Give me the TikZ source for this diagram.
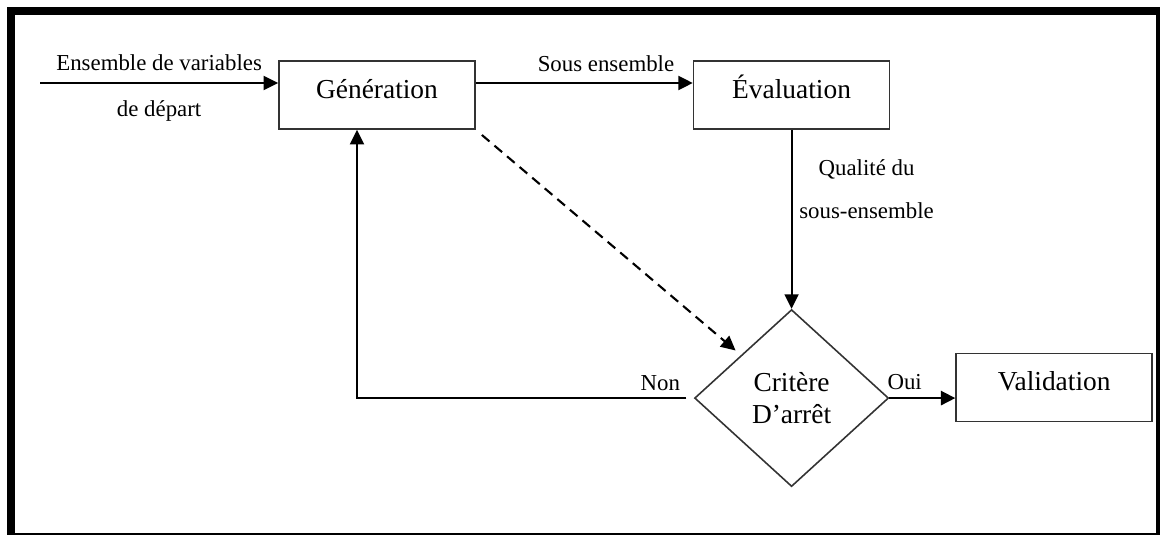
\documentclass[tikz,border=0pt]{standalone}
\usepackage{fontspec}
\setmainfont{Liberation Serif}
\usepackage{tikz}
\usetikzlibrary{positioning, shapes.geometric, arrows.meta}
\newcommand{\bigtxt}{\fontsize{15.6}{18.7}\selectfont}
\newcommand{\smalltxt}{\fontsize{13}{15.6}\selectfont}
\tikzset{
    box/.style={draw=black!80, line width=0.9pt, minimum width=39.2mm, minimum height=13.6mm, inner sep=0mm, font=\bigtxt, text height=12pt, text depth=8.5pt},
    test/.style={diamond, draw=black!80, line width=0.9pt, minimum width=38.8mm, minimum height=35.4mm, inner sep=0mm, align=center, font=\bigtxt},
    flow/.style={-{Triangle[length=2.9mm, width=2.8mm]}, line width=1.1pt},
    dflow/.style={flow, dash pattern=on 2mm off 1.3mm},
    lbl/.style={font=\smalltxt, inner sep=1pt},
    node distance=1.5
}
\begin{document}
\begin{tikzpicture}
    \useasboundingbox (0,0) rectangle (23.2,10.7);
    % cadre
    \fill (0.14,0) rectangle (0.30,10.56);
    \fill (0.14,10.40) rectangle (23.2,10.56);
    \fill (23.12,0) rectangle (23.2,10.56);
    \fill (0.14,0) rectangle (23.2,0.04);

    \node[box] (gen) at (7.54,8.80) {Génération};
    \node[box, right = 4.34cm of gen] (eval) {Évaluation};
    \node[test, below = 3.58cm of eval] (crit) {Critère\\D’arrêt};
    \node[box, right = 1.32cm of crit, yshift=2.1mm] (valid) {Validation};
    \coordinate (start) at (0.80,9.04);

    \draw
    (start) edge[flow] node[lbl, above=1.9mm, midway] {Ensemble de variables}
                       node[lbl, below=3mm, midway] {de départ} (start -| gen.west)
    ([yshift=2.4mm]gen.east) edge[flow] node[lbl, above=1.7mm, pos=0.6] {Sous ensemble} ([yshift=2.4mm]eval.west)
    (eval) edge[flow] node[lbl, right=1mm, pos=0.33, align=center] {Qualité du\\[9pt]sous-ensemble} (crit)
    (gen.south east) edge[dflow, line width=1.2pt, shorten <=1.6mm, shorten >=1.4mm] (crit)
    (crit.east) edge[flow, line width=1.6pt] node[lbl, pos=0, anchor=south west, xshift=-1mm, yshift=1mm] {Oui} (crit.east -| valid.west);

    \draw[flow, shorten <=1.5mm] (crit.west) -| ([xshift=-4mm]gen.south)
        node[lbl, pos=0, anchor=south east, xshift=-2.2mm, yshift=1mm] {Non};
\end{tikzpicture}
\end{document}
